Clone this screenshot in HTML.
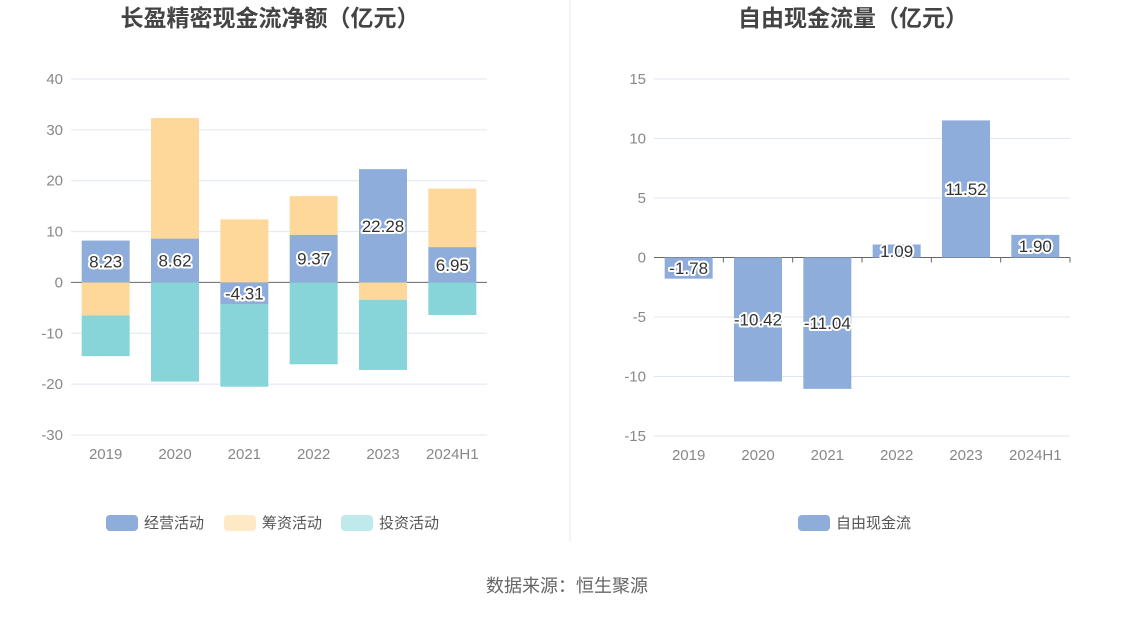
<!DOCTYPE html>
<html><head><meta charset="utf-8"><style>
body{margin:0;background:#fff;width:1134px;height:612px;overflow:hidden;font-family:"Liberation Sans","Noto Sans CJK SC",sans-serif}
</style></head><body>
<svg id="c" width="1134" height="612" xmlns="http://www.w3.org/2000/svg" font-family="Liberation Sans, Noto Sans CJK SC, sans-serif"></svg>
<script>
const categories=["2019","2020","2021","2022","2023","2024H1"];
const operating=[8.23,8.62,-4.31,9.37,22.28,6.95];
const financing=[-6.5,23.7,12.4,7.6,-3.4,11.5];
const investing=[-8.0,-19.5,-16.2,-16.1,-13.8,-6.4];
const freeCash=[-1.78,-10.42,-11.04,1.09,11.52,1.90];
const leftTicks=[40,30,20,10,0,-10,-20,-30];
const rightTicks=[15,10,5,0,-5,-10,-15];
const svg=document.getElementById('c');
const NS="http://www.w3.org/2000/svg";
function mk(tag,attrs,parent){const e=document.createElementNS(NS,tag);for(const k in attrs)e.setAttribute(k,attrs[k]);(parent||svg).appendChild(e);return e;}
function txt(s,attrs,parent){const e=mk('text',attrs,parent);e.textContent=s;return e;}
const C={op:"#8eaddb",fin:"#fed89a",inv:"#87d5d8"};
let t=txt("长盈精密现金流净额（亿元）",{x:270,y:26,"text-anchor":"middle","font-size":23,"font-weight":"bold",fill:"#444"});

t=txt("自由现金流量（亿元）",{x:853,y:26,"text-anchor":"middle","font-size":23,"font-weight":"bold",fill:"#444"});

let d=mk('line',{x1:570,y1:0,x2:570,y2:542,stroke:"#e8e8e8"});

t=txt("数据来源：恒生聚源",{x:567,y:592,"text-anchor":"middle","font-size":18,fill:"#666"});


function axis(x0,x1,ymax,ymin,yTop,yBot,ticks,g,name){
  const y=v=>yTop+(ymax-v)/(ymax-ymin)*(yBot-yTop);
  ticks.forEach(v=>{
    const l=mk('line',{x1:x0,x2:x1,y1:y(v),y2:y(v),stroke:v===0?"#666":"#e0e6f1"},g);
    
    const tt=txt(String(v),{x:x0-8,y:y(v)+5,"text-anchor":"end","font-size":15,fill:"#888"},g);
    
  });
  const bw=(x1-x0)/categories.length;
  const cx=i=>x0+bw*(i+0.5);
  categories.forEach((c,i)=>{
    const tt=txt(c,{x:cx(i),y:yBot+24,"text-anchor":"middle","font-size":15,fill:"#888"},g);
    
  });
  return {y,cx,bw};
}
function label(s,x,y,g){
  const tt=txt(s,{x:x,y:y+6,"text-anchor":"middle","font-size":17,fill:"#333",stroke:"#fff","stroke-width":4,"paint-order":"stroke","stroke-linejoin":"round"},g);
  
}
const gL=mk('g',{});
const A=axis(71,487,40,-30,79,435,leftTicks,gL,'left');
categories.forEach((c,i)=>{
  let pos=0,neg=0;const w=48,x=A.cx(i)-w/2;
  [[operating,C.op,'operating'],[financing,C.fin,'financing'],[investing,C.inv,'investing']].forEach(([arr,col,nm])=>{
    const v=arr[i];let a,b;
    if(v>=0){a=pos;b=pos+v;pos=b;}else{a=neg;b=neg+v;neg=b;}
    const r=mk('rect',{x:x,y:Math.min(A.y(a),A.y(b)),width:w,height:Math.abs(A.y(a)-A.y(b)),fill:col},gL);
    
  });
  label(operating[i].toFixed(2),A.cx(i),A.y(operating[i]/2),gL);
});
const gR=mk('g',{});
const B=axis(654,1070,15,-15,79,436,rightTicks,gR,'right');
categories.forEach((c,i)=>{
  const v=freeCash[i],w=48,x=B.cx(i)-w/2;
  const r=mk('rect',{x:x,y:Math.min(B.y(0),B.y(v)),width:w,height:Math.abs(B.y(0)-B.y(v)),fill:C.op},gR);
  
  const tk=mk('line',{x1:B.cx(i)+B.bw/2,x2:B.cx(i)+B.bw/2,y1:B.y(0),y2:B.y(0)+5,stroke:"#666"},gR);
  
  label(v.toFixed(2),B.cx(i),B.y(v/2),gR);
});
function legend(x,y,col,s){
  const g=mk('g',{});
  mk('rect',{x:x,y:y-7,width:32,height:16,rx:4,fill:col},g);
  txt(s,{x:x+38,y:y+6,"font-size":15,fill:"#555"},g);
}
legend(106,522,C.op,"经营活动");legend(224,522,"#fde9c5","筹资活动");legend(341,522,"#c0e9eb","投资活动");
legend(798,522,C.op,"自由现金流");
</script>
</body></html>
